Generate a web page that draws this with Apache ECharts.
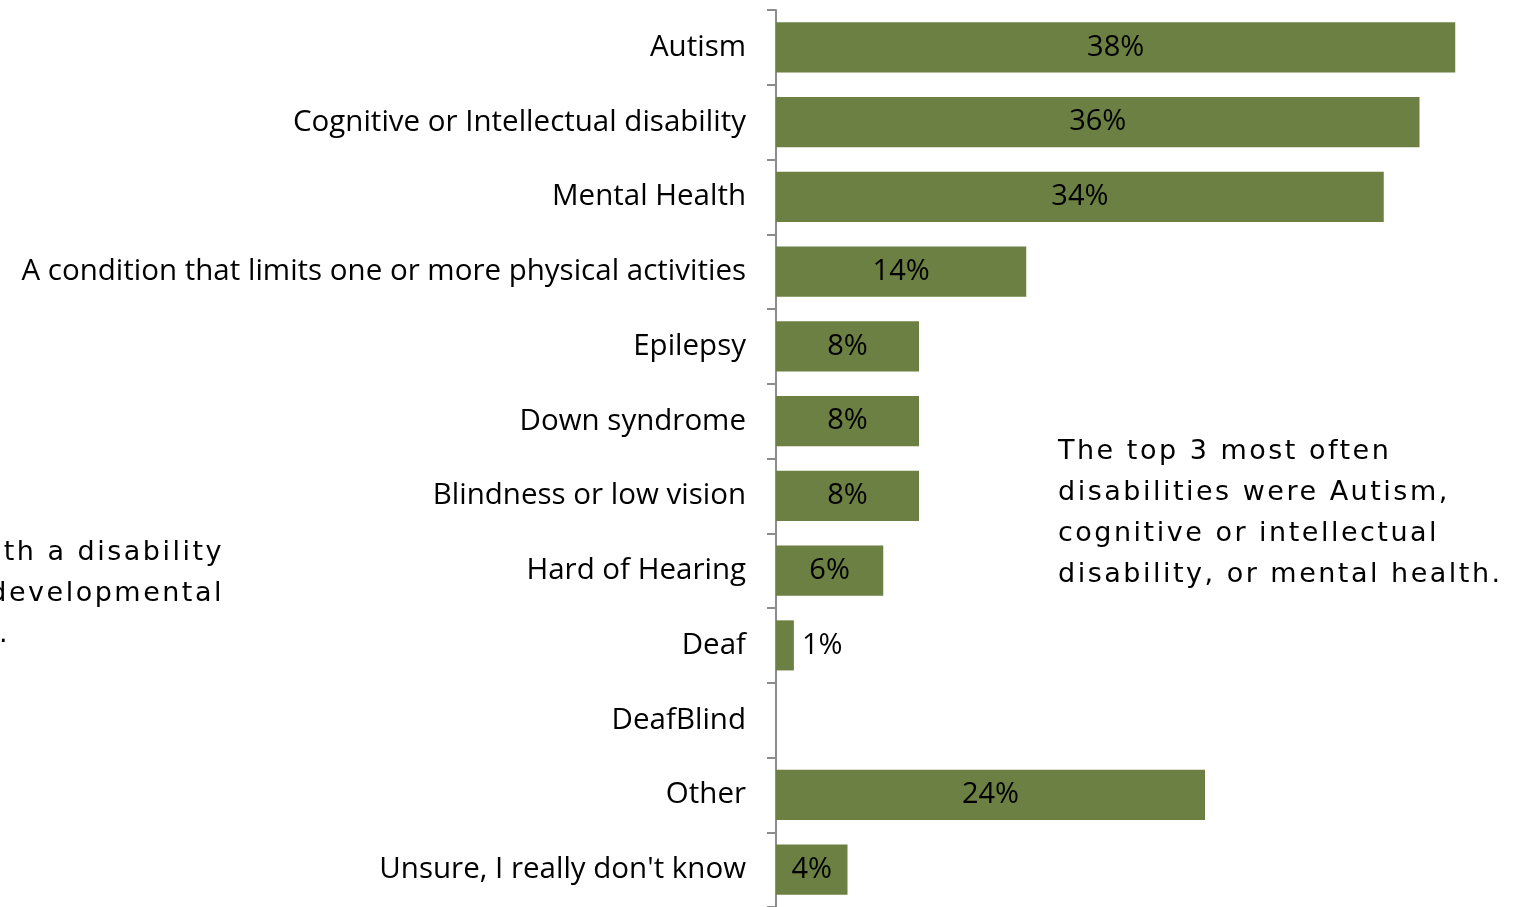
<!DOCTYPE html>
<html>
<head>
<meta charset="utf-8">
<script src="https://cdn.jsdelivr.net/npm/echarts@6/dist/echarts.min.js"></script>
<style>
  html, body { margin: 0; padding: 0; background: #fff; }
  #chart { width: 1519px; height: 907px; }
</style>
</head>
<body>
<div id="chart"></div>
<script>
// Disability types reported (share of respondents, %)
const categories = [
  'Autism',
  'Cognitive or Intellectual disability',
  'Mental Health',
  'A condition that limits one or more physical activities',
  'Epilepsy',
  'Down syndrome',
  'Blindness or low vision',
  'Hard of Hearing',
  'Deaf',
  'DeafBlind',
  'Other',
  "Unsure, I really don't know"
];
const shares = [38, 36, 34, 14, 8, 8, 8, 6, 1, 0, 24, 4];

// Side notes
const noteRight = [
  'The top 3 most often',
  'disabilities were Autism,',
  'cognitive or intellectual',
  'disability, or mental health.'
];
const noteLeft = ['with a disability', 'developmental', 'disability.'];

const BAR = '#6B8042';
const AXIS = '#8C8C8C';
const FONT = 'Open Sans';
const NOTE_FONT = 'DejaVu Sans';
const NOTE_SPACING = '2.5px';

// The side notes are set with wide tracking: apply canvas letter spacing
// only to text drawn in the note font.
(function () {
  const proto = CanvasRenderingContext2D.prototype;
  const origFill = proto.fillText;
  proto.fillText = function (text, x, y, maxWidth) {
    const tracked = this.font && this.font.indexOf(NOTE_FONT) >= 0;
    const prev = this.letterSpacing;
    if (tracked) this.letterSpacing = NOTE_SPACING;
    const r = maxWidth === undefined ? origFill.call(this, text, x, y) : origFill.call(this, text, x, y, maxWidth);
    if (tracked) this.letterSpacing = prev || '0px';
    return r;
  };
})();

const chart = echarts.init(document.getElementById('chart'), null, { renderer: 'canvas' });

const seriesData = shares.map(v => {
  const item = { value: v };
  if (v > 0 && v < 3) {
    item.label = { position: 'right', distance: 8 };
  }
  return item;
});

const noteText = (lines, x, y0, align) => lines.map((t, i) => ({
  type: 'text',
  x: x,
  y: y0 + i * 41,
  style: {
    text: t,
    fill: '#000',
    font: '27px "' + NOTE_FONT + '"',
    textAlign: align,
    textVerticalAlign: 'middle'
  }
}));

const leftNote = noteText(noteLeft, 224, 553, 'right');
leftNote[2].x = 10;

chart.setOption({
  animation: false,
  grid: { left: 776, top: 10, width: 715, height: 900, containLabel: false },
  xAxis: {
    type: 'value',
    min: 0,
    max: 40,
    show: false
  },
  yAxis: {
    type: 'category',
    data: categories,
    inverse: true,
    axisLine: { show: true, lineStyle: { color: AXIS, width: 2 } },
    axisTick: { show: true, length: 9, lineStyle: { color: AXIS, width: 2 } },
    axisLabel: {
      margin: 30,
      fontSize: 29.5,
      fontFamily: FONT,
      color: '#000'
    },
    splitLine: { show: false }
  },
  series: [{
    type: 'bar',
    data: seriesData,
    barCategoryGap: '33%',
    itemStyle: { color: BAR },
    label: {
      show: true,
      position: 'inside',
      fontSize: 29,
      fontFamily: FONT,
      color: '#000',
      formatter: p => (p.value ? p.value + '%' : '')
    }
  }],
  graphic: [
    ...noteText(noteRight, 1058, 452, 'left'),
    ...leftNote
  ]
});
</script>
</body>
</html>
